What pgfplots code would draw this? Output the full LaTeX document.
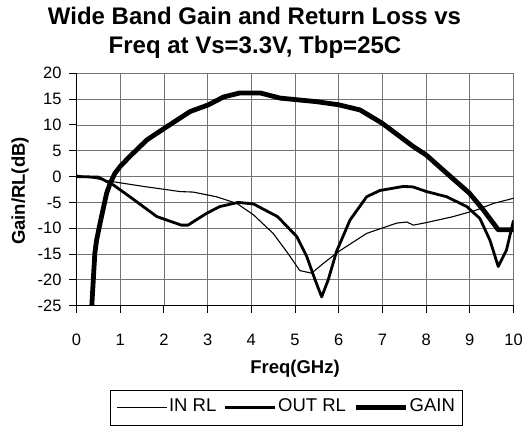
\documentclass[border=0pt]{standalone}
\usepackage{fontspec}
\setmainfont{Liberation Sans}
\usepackage{pgfplots}
\pgfplotsset{compat=1.18}
\begin{document}
\begin{tikzpicture}
\path[use as bounding box] (-76.5bp,-121.3bp) rectangle (449.5bp,305.7bp);
\begin{axis}[
  at={(0,0)}, anchor=south west,
  scale only axis, width=437bp, height=232.4bp,
  xmin=0, xmax=10, ymin=-25, ymax=20,
  xtick={0,1,...,10}, ytick={-25,-20,...,20},
  axis x line=bottom, axis y line=left,
  axis line style={-, black, line width=0.9bp},
  grid=major, major grid style={color=black!55, line width=0.8bp},
  tick align=outside, major tick length=7bp,
  tick style={black, line width=0.9bp},
  /pgf/number format/assume math mode=true,
  ticklabel style={font=\fontsize{16.5bp}{16.5bp}\selectfont},
  xticklabel style={anchor=base, yshift=-32.3bp},
  yticklabel style={anchor=east, inner xsep=0pt, xshift=-7.8bp},
  xlabel={Freq(GHz)},
  ylabel={Gain/RL(dB)},
  label style={font=\bfseries\fontsize{18.5bp}{18.5bp}\selectfont},
  xlabel style={at={(axis description cs:0.5,0)}, anchor=base, yshift=-67.3bp},
  ylabel style={at={(axis description cs:0,0.5)}, rotate=0, anchor=base, yshift=51.5bp, xshift=-1.5bp},
  legend columns=-1,
  legend style={at={(axis description cs:0.0767,-0.3627)}, anchor=north west,
    draw=black, line width=0.8bp, font=\fontsize{18.5bp}{18.5bp}\selectfont,
    inner xsep=6bp, inner ysep=8.4bp,
    nodes={inner xsep=1.5bp, inner ysep=0bp, text depth=5bp},
    /tikz/every even column/.append style={column sep=6bp}},
  legend image code/.code={\draw[#1] (0bp,0bp) -- (50bp,0bp);},
]
\addplot[black, line width=1.1bp] coordinates {
(0,0.3) (0.84,-1.0) (1.53,-1.9) (2.37,-2.9) (2.67,-3.0) (3.2,-3.9) (3.67,-5.2)
(4.05,-7.4) (4.5,-11) (4.85,-15) (5.11,-18.2) (5.38,-18.7) (5.65,-16.8) (6.0,-14.5)
(6.64,-11) (7.33,-9.0) (7.56,-8.8) (7.71,-9.4) (8.01,-8.9) (8.62,-7.75) (9.16,-6.45)
(9.54,-5.2) (10,-4.2)};
\addlegendentry{IN RL}
\addplot[black, line width=2.8bp, line join=round] coordinates {
(0,0) (0.5,-0.1) (0.84,-1.6) (1.22,-3.9) (1.84,-7.75) (2.4,-9.4) (2.55,-9.4)
(2.98,-7.1) (3.28,-5.8) (3.7,-5.0) (4.05,-5.3) (4.6,-7.75) (5.04,-11.6) (5.27,-15.5)
(5.46,-20) (5.61,-23.3) (5.76,-20) (5.95,-14.5) (6.26,-8.4) (6.64,-3.9) (6.94,-2.7)
(7.48,-1.9) (7.7,-2.0) (8.01,-2.9) (8.47,-3.9) (8.93,-5.8) (9.23,-8.1) (9.46,-12.3)
(9.65,-17.4) (9.84,-14.2) (10,-8.5)};
\addlegendentry{OUT RL}
\addplot[black, line width=4.8bp, line join=round] coordinates {
(0.35,-25) (0.42,-14.8) (0.46,-12.3) (0.54,-9.0) (0.69,-3.2) (0.77,-1.3) (0.88,0.66)
(1.01,2.07) (1.22,3.9) (1.61,7.1) (2.02,9.4) (2.6,12.6) (3.02,13.9) (3.36,15.4)
(3.74,16.2) (4.2,16.2) (4.66,15.2) (5.02,14.9) (5.5,14.5) (6.0,13.9) (6.49,12.9)
(7.0,10.3) (7.71,5.8) (8.0,4.2) (8.47,0.66) (8.99,-3.2) (9.31,-6.45) (9.65,-10.3)
(10,-10.3)};
\addlegendentry{GAIN}
\end{axis}
\node[anchor=base, font=\bfseries\fontsize{24bp}{24bp}\selectfont] at (178bp,280.7bp) {Wide Band Gain and Return Loss vs};
\node[anchor=base, font=\bfseries\fontsize{24bp}{24bp}\selectfont] at (178.5bp,252.4bp) {Freq at Vs=3.3V, Tbp=25C};
\end{tikzpicture}
\end{document}
